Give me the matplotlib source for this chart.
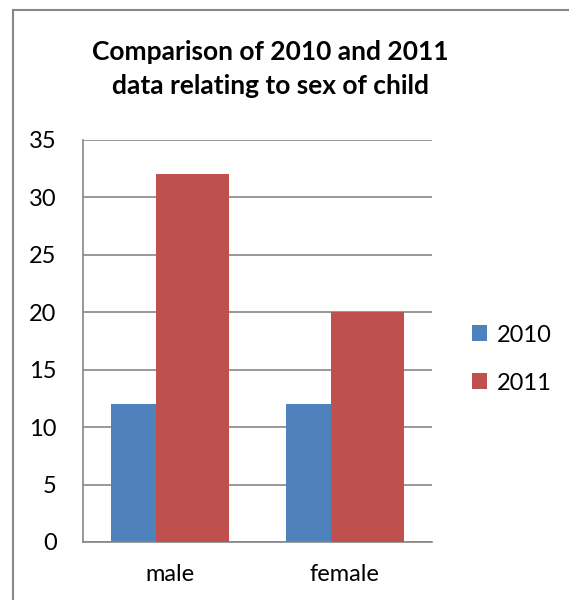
import numpy as np
import matplotlib.pyplot as plt
from matplotlib.lines import Line2D

plt.rcParams['font.family'] = ['Lato', 'DejaVu Sans']

categories = ['male', 'female']
series = ['2010', '2011']
values_2010 = [12, 12]
values_2011 = [32, 20]
colors = ['#4f81bd', '#c0504d']

fig = plt.figure(figsize=(5.72, 6.0), dpi=100)

# chart border: only the left and top edges fall inside the image
bx, by = 13 / 572, 1 - 10 / 600
fig.add_artist(Line2D([bx, bx], [0, by], transform=fig.transFigure,
                      color='#878787', linewidth=1.5))
fig.add_artist(Line2D([bx, 569 / 572], [by, by], transform=fig.transFigure,
                      color='#878787', linewidth=1.5, solid_capstyle='butt'))

ax = fig.add_axes([83 / 572, 1 - 542 / 600, 349 / 572, 402 / 600])

x = np.arange(len(categories))
w = 0.418
# overlapping clustered bars, second series drawn on top
ax.bar(x - 0.129, values_2010, w, color=colors[0], label=series[0], zorder=2)
ax.bar(x + 0.129, values_2011, w, color=colors[1], label=series[1], zorder=3)

ax.set_xlim(-0.5, 1.5)
ax.set_ylim(0, 35)
ax.set_yticks(np.arange(0, 36, 5))
ax.set_xticks(x)
ax.set_xticklabels(categories)
ax.yaxis.grid(True, color='#868686', linewidth=1.2, zorder=1)
ax.set_axisbelow(True)
for s in ['top', 'right']:
    ax.spines[s].set_visible(False)
for s in ['left', 'bottom']:
    ax.spines[s].set_color('#868686')
    ax.spines[s].set_linewidth(1.2)
ax.tick_params(axis='y', length=0, pad=19, labelsize=17)
ax.tick_params(axis='x', length=0, pad=16, labelsize=17)

fig.text(270 / 572, 1 - 69 / 600, 'Comparison of 2010 and 2011\ndata relating to sex of child',
         ha='center', va='center', fontsize=19, fontweight='bold',
         linespacing=1.55)

ax.legend(loc='center left', bbox_to_anchor=(1.115, 0.455), frameon=False,
          fontsize=17, handlelength=0.65, handleheight=0.65, handletextpad=0.4,
          labelspacing=1.15, borderpad=0, borderaxespad=0)

fig.savefig('out.png', dpi=100)
